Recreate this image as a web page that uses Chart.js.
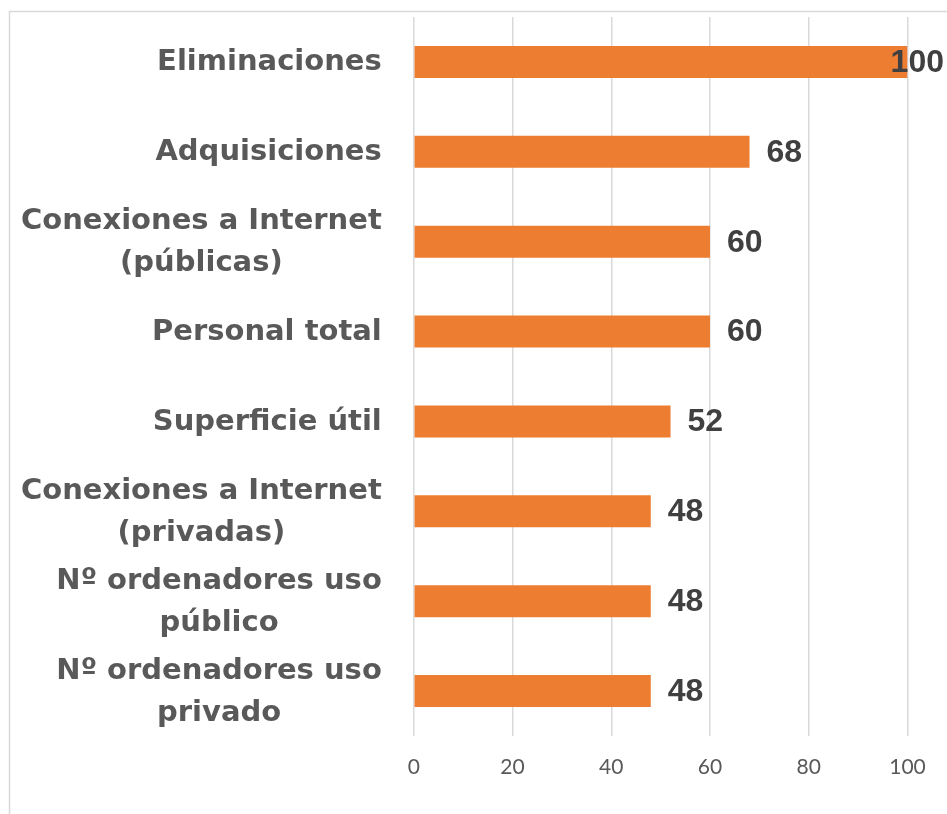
<!DOCTYPE html>
<html>
<head>
<meta charset="utf-8">
<style>
  html, body { margin: 0; padding: 0; background: #fff; }
  #wrap { width: 947px; height: 814px; }
</style>
<script src="https://cdn.jsdelivr.net/npm/chart.js@4/dist/chart.umd.min.js"></script>
</head>
<body>
<div id="wrap"><canvas id="barChart"></canvas></div>
<script>
// categories, top to bottom
var categories = [
  ['Eliminaciones'],
  ['Adquisiciones'],
  ['Conexiones a Internet', '(públicas)'],
  ['Personal total'],
  ['Superficie útil'],
  ['Conexiones a Internet', '(privadas)'],
  ['Nº ordenadores uso', 'público'],
  ['Nº ordenadores uso', 'privado']
];
var values = [100, 68, 60, 60, 52, 48, 48, 48];
var xTicks = [0, 20, 40, 60, 80, 100];

var barColor = '#ED7D31';
var labelFont = 'bold 29px "DejaVu Sans"';
var valueFont = 'bold 32px "Liberation Sans"';

// outer frame of the chart box
var framePlugin = {
  id: 'frame',
  beforeDraw: function (chart) {
    var c = chart.ctx;
    c.save();
    c.strokeStyle = '#D9D9D9';
    c.lineWidth = 1.5;
    c.strokeRect(9.5, 11.5, chart.width + 20, chart.height + 20);
    c.restore();
  }
};

// category labels: right aligned block, lines centred inside it
var catLabels = {
  id: 'catLabels',
  afterDraw: function (chart) {
    var c = chart.ctx;
    var y = chart.scales.y;
    var right = chart.chartArea.left - 32;
    var lh = 42;
    c.save();
    c.font = labelFont;
    c.fillStyle = '#595959';
    c.textAlign = 'center';
    c.textBaseline = 'middle';
    categories.forEach(function (lines, i) {
      var w = 0;
      lines.forEach(function (l) { w = Math.max(w, c.measureText(l).width); });
      var cx = right - w / 2;
      var cy = y.getPixelForValue(i) + 1 - (lines.length - 1) * lh / 2;
      lines.forEach(function (l, k) { c.fillText(l, cx, cy + k * lh); });
    });
    c.restore();
  }
};

// value labels at the end of each bar
var valueLabels = {
  id: 'valueLabels',
  afterDatasetsDraw: function (chart) {
    var c = chart.ctx;
    var meta = chart.getDatasetMeta(0);
    c.save();
    c.font = valueFont;
    c.fillStyle = '#404040';
    c.textAlign = 'left';
    c.textBaseline = 'middle';
    meta.data.forEach(function (bar, i) {
      var txt = String(values[i]);
      var w = c.measureText(txt).width;
      var x = Math.min(bar.x + 17, chart.width - w - 3);
      c.fillText(txt, x, bar.y + 1);
    });
    c.restore();
  }
};

var ctx = document.getElementById('barChart').getContext('2d');
var barChart = new Chart(ctx, {
  type: 'bar',
  data: {
    labels: categories.map(function (l) { return l.join(' '); }),
    datasets: [{
      data: values,
      backgroundColor: barColor,
      borderWidth: 0,
      barPercentage: 0.356,
      categoryPercentage: 1
    }]
  },
  options: {
    indexAxis: 'y',
    responsive: true,
    maintainAspectRatio: false,
    animation: false,
    layout: { padding: { top: 17, right: 39.5, left: 0, bottom: 0 } },
    plugins: {
      legend: { display: false },
      tooltip: { enabled: false }
    },
    scales: {
      x: {
        min: 0,
        max: 100,
        afterBuildTicks: function (axis) {
          axis.ticks = xTicks.map(function (v) { return { value: v }; });
        },
        afterFit: function (axis) { axis.height = 78; },
        grid: { color: '#D9D9D9', lineWidth: 1.5, drawTicks: false },
        border: { display: false },
        ticks: {
          padding: 19,
          color: '#595959',
          font: { family: 'Lato', size: 21 }
        }
      },
      y: {
        afterFit: function (axis) { axis.width = 413.8; },
        grid: { display: false },
        border: { display: false },
        ticks: { display: false }
      }
    }
  },
  plugins: [framePlugin, catLabels, valueLabels]
});
</script>
</body>
</html>
